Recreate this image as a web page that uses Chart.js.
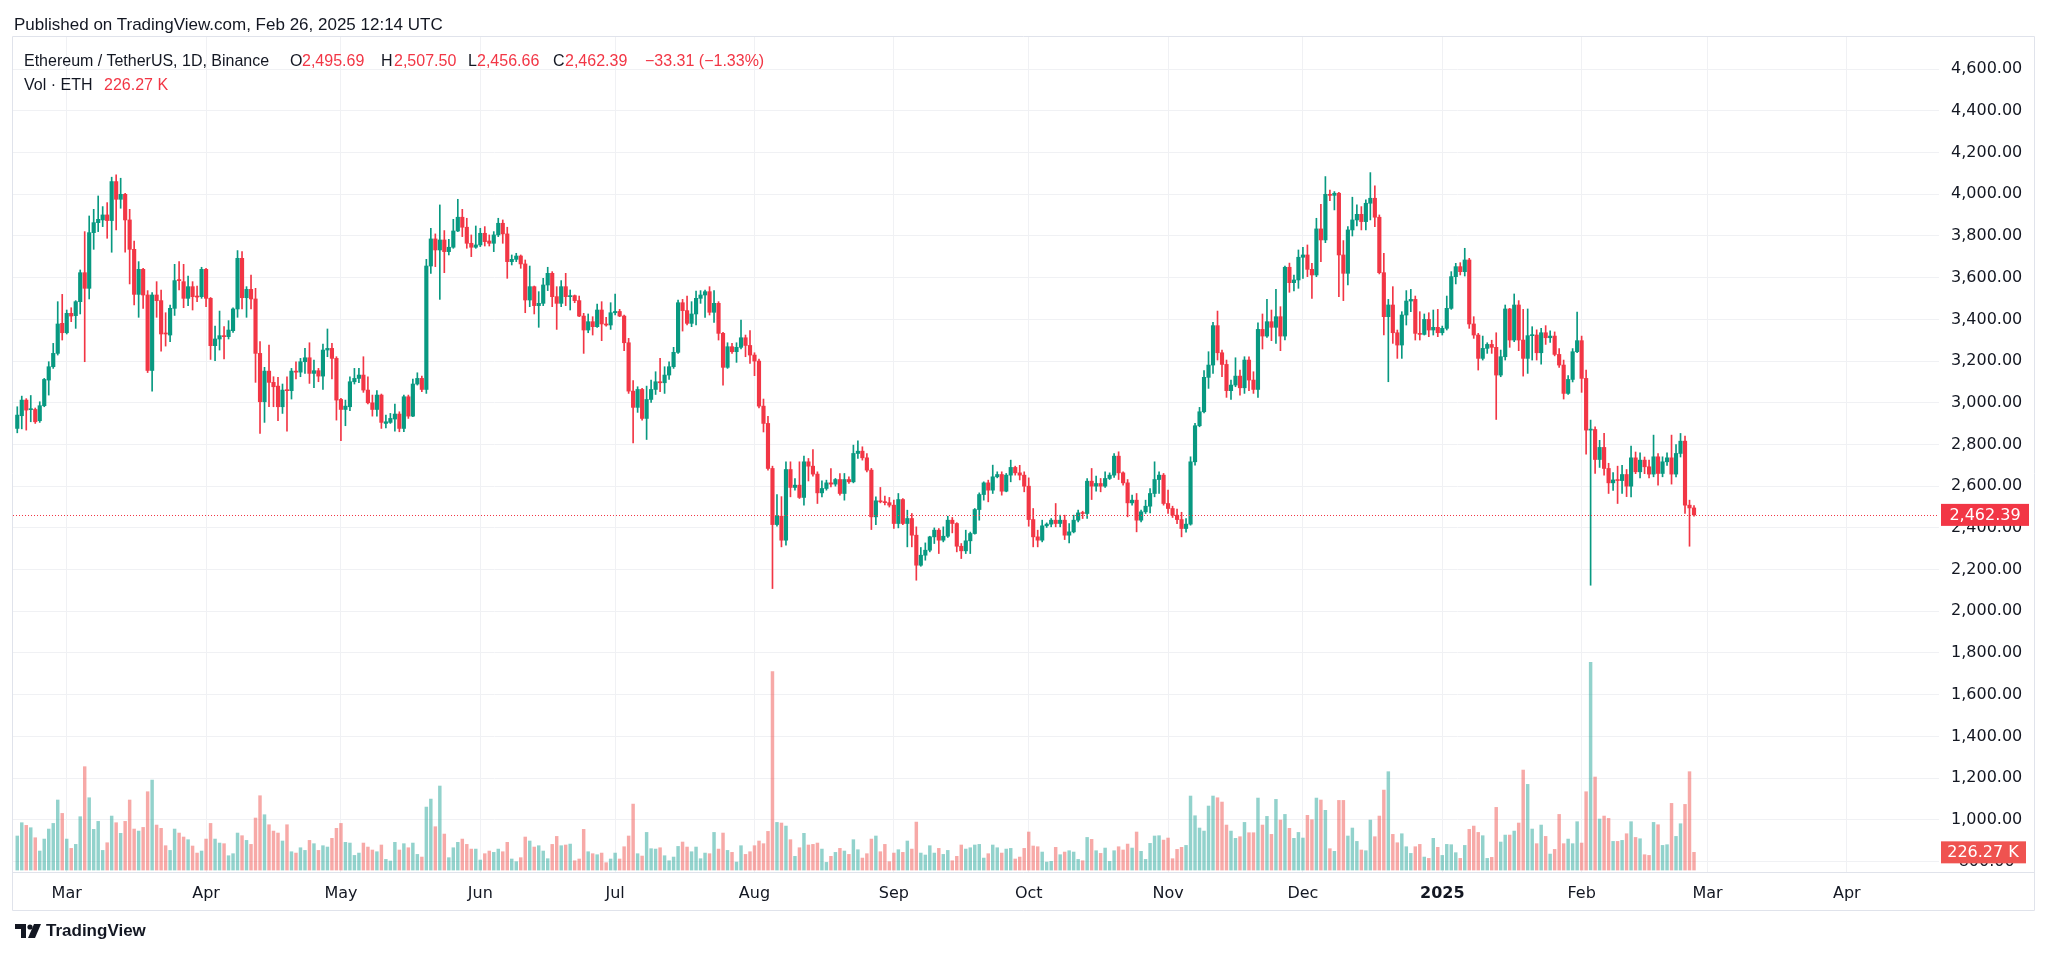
<!DOCTYPE html>
<html><head><meta charset="utf-8">
<script src="https://cdn.jsdelivr.net/npm/chart.js@4.4.1/dist/chart.umd.min.js"></script>
<style>
html,body{margin:0;padding:0;background:#fff;overflow:hidden;}
#wrap{position:relative;width:2048px;height:956px;overflow:hidden;font-family:"Liberation Sans",Arial,sans-serif;color:#131722;}
canvas{position:absolute;left:0;top:0;}
.t{position:absolute;white-space:nowrap;line-height:20px;}
.r{color:#F23645;}
</style></head><body>
<div id="wrap">
<canvas id="c" width="2048" height="956"></canvas>
<div class="t" style="left:14px;top:15px;font-size:17px;">Published on TradingView.com, Feb 26, 2025 12:14 UTC</div>
<div class="t" style="left:24px;top:51px;font-size:16px;">Ethereum / TetherUS, 1D, Binance</div>
<div class="t" style="left:290px;top:51px;font-size:16px;">O</div>
<div class="t r" style="left:302px;top:51px;font-size:16px;">2,495.69</div>
<div class="t" style="left:381px;top:51px;font-size:16px;">H</div>
<div class="t r" style="left:394px;top:51px;font-size:16px;">2,507.50</div>
<div class="t" style="left:468px;top:51px;font-size:16px;">L</div>
<div class="t r" style="left:477px;top:51px;font-size:16px;">2,456.66</div>
<div class="t" style="left:553px;top:51px;font-size:16px;">C</div>
<div class="t r" style="left:565px;top:51px;font-size:16px;">2,462.39</div>
<div class="t r" style="left:645px;top:51px;font-size:16px;">−33.31 (−1.33%)</div>
<div class="t" style="left:24px;top:75px;font-size:16px;">Vol · ETH</div>
<div class="t r" style="left:104px;top:75px;font-size:16px;">226.27 K</div>
<svg style="position:absolute;left:15px;top:924px" width="28" height="15" viewBox="0 0 28 15">
<path d="M0 0 H11 V14 H6 V5 H0 Z" fill="#131722"/>
<circle cx="15" cy="3" r="2.6" fill="#131722"/>
<path d="M13 14 L19 0 H26 L20 14 Z" fill="#131722"/>
</svg>
<div class="t" style="left:46px;top:921px;font-size:17px;font-weight:bold;">TradingView</div>
</div>
<script>
// Daily candles starting 2024-02-19 (index 0) through 2025-02-26 (index 373)
const openP = [
2877,2938,3013,2967,2968,2914,2986,3109,3173,3237,
3381,3336,3429,3418,3485,3624,3549,3816,3864,3877,
3901,3874,4061,3976,4000,3877,3736,3520,3640,3517,
3155,3517,3490,3333,3325,3453,3589,3581,3501,3557,
3512,3509,3640,3501,3274,3306,3322,3317,3346,3450,
3693,3504,3544,3498,3237,3005,3152,3098,3080,2981,
3061,3058,3152,3147,3197,3216,3141,3154,3128,3253,
3261,3213,3016,2968,2981,3101,3117,3133,3061,3000,
2968,3037,2901,2906,2922,2946,2877,3029,2936,3090,
3117,3064,3656,3786,3733,3781,3725,3746,3824,3890,
3842,3765,3746,3757,3813,3776,3765,3805,3861,3810,
3677,3688,3704,3666,3493,3557,3466,3477,3565,3621,
3509,3477,3557,3509,3514,3490,3416,3349,3389,3365,
3445,3378,3373,3432,3438,3416,3288,3056,2978,3064,
2925,3016,3064,3101,3096,3133,3173,3242,3480,3442,
3381,3426,3501,3517,3533,3434,3477,3333,3170,3269,
3245,3266,3312,3275,3229,3200,2984,2901,2685,2416,
2456,2341,2680,2594,2605,2546,2717,2696,2658,2568,
2589,2616,2610,2632,2565,2632,2621,2757,2768,2736,
2677,2453,2530,2525,2521,2509,2421,2536,2421,2445,
2365,2221,2269,2293,2357,2389,2341,2360,2437,2421,
2312,2290,2338,2373,2488,2560,2616,2581,2645,2656,
2576,2653,2690,2664,2653,2600,2440,2357,2341,2410,
2418,2437,2421,2437,2365,2381,2437,2472,2469,2624,
2600,2613,2600,2637,2653,2744,2664,2616,2520,2533,
2437,2477,2504,2565,2632,2653,2517,2493,2461,2440,
2397,2418,2717,2890,2957,3122,3181,3370,3240,3184,
3058,3085,3128,3072,3205,3109,3064,3352,3320,3389,
3362,3413,3320,3650,3576,3589,3698,3709,3640,3613,
3834,3781,4000,3995,4005,3709,3621,3829,3877,3904,
3869,3957,3981,3890,3624,3413,3469,3336,3277,3421,
3488,3496,3333,3328,3400,3349,3362,3336,3357,3453,
3605,3653,3629,3685,3378,3325,3213,3261,3280,3266,
3133,3221,3450,3301,3469,3301,3213,3322,3325,3240,
3336,3312,3320,3232,3181,3045,3112,3245,3298,3117,
2869,2872,2728,2786,2685,2616,2630,2627,2656,2600,
2736,2669,2725,2693,2658,2741,2661,2717,2736,2658,
2757,2816,2509,2495.69
];
const highP = [
2981,3032,3020,3035,2975,3005,3117,3197,3285,3485,
3520,3445,3456,3490,3637,3821,3896,3928,3992,3941,
3960,4082,4093,4077,4005,3928,3776,3677,3645,3538,
3528,3581,3541,3432,3469,3664,3677,3664,3608,3581,
3560,3650,3645,3505,3368,3440,3365,3394,3456,3730,
3725,3557,3613,3549,3293,3170,3277,3125,3122,3090,
3125,3165,3197,3213,3261,3288,3205,3165,3282,3354,
3285,3221,3021,3013,3125,3165,3165,3221,3125,3037,
3058,3042,2941,2949,2994,2957,3037,3037,3114,3144,
3128,3688,3837,3810,3949,3826,3784,3880,3976,3928,
3885,3805,3848,3837,3845,3805,3821,3885,3877,3842,
3709,3717,3709,3685,3656,3560,3533,3597,3650,3629,
3557,3586,3621,3541,3517,3512,3429,3426,3413,3474,
3485,3410,3480,3522,3448,3421,3309,3106,3077,3069,
3080,3109,3149,3213,3173,3197,3266,3493,3496,3512,
3485,3536,3538,3541,3557,3538,3485,3338,3288,3285,
3288,3397,3325,3346,3240,3210,3018,2935,2696,2560,
2550,2717,2717,2637,2717,2744,2733,2776,2669,2626,
2629,2685,2637,2661,2661,2645,2797,2818,2789,2757,
2685,2549,2594,2553,2546,2533,2565,2540,2485,2469,
2405,2306,2328,2360,2400,2397,2405,2456,2450,2425,
2325,2389,2380,2493,2568,2621,2629,2701,2669,2669,
2661,2725,2696,2700,2669,2640,2493,2389,2437,2424,
2445,2517,2461,2461,2421,2461,2485,2480,2637,2685,
2648,2637,2669,2664,2757,2765,2669,2632,2557,2565,
2485,2533,2589,2717,2669,2661,2581,2504,2490,2475,
2445,2741,2901,2978,3154,3245,3386,3440,3253,3205,
3109,3216,3157,3221,3221,3149,3384,3426,3496,3445,
3544,3461,3656,3670,3613,3733,3746,3757,3669,3885,
3952,4085,4020,4013,4010,3778,3845,3986,3949,3941,
3973,4104,4040,3901,3717,3496,3557,3349,3437,3538,
3544,3512,3437,3426,3432,3445,3448,3368,3512,3629,
3669,3672,3741,3693,3413,3333,3320,3288,3300,3336,
3253,3469,3453,3522,3490,3448,3450,3365,3350,3357,
3370,3345,3340,3260,3205,3130,3260,3435,3320,3157,
2917,2885,2820,2853,2710,2665,2696,2700,2680,2792,
2764,2760,2740,2725,2845,2757,2741,2760,2845,2800,
2853,2840,2533,2507.50
];
const lowP = [
2856,2875,2869,2909,2901,2906,2981,3037,3165,3229,
3301,3330,3389,3357,3426,3197,3498,3736,3821,3845,
3789,3722,3829,3933,3722,3570,3469,3410,3453,3145,
3056,3410,3248,3272,3293,3419,3541,3456,3466,3445,
3485,3501,3461,3208,3202,3253,3210,3306,3338,3410,
3450,3410,3450,3098,2853,2906,2981,2981,2914,2949,
2864,3018,3114,3125,3141,3093,3072,3101,3064,3221,
3114,2917,2818,2890,2962,3090,3096,3050,2994,2936,
2936,2877,2880,2901,2864,2861,2861,2925,2933,3085,
3053,3045,3621,3653,3496,3624,3709,3741,3821,3797,
3741,3701,3741,3749,3752,3752,3725,3797,3765,3597,
3661,3677,3645,3432,3461,3426,3362,3466,3538,3461,
3352,3461,3466,3445,3480,3413,3237,3336,3325,3362,
3298,3368,3352,3421,3413,3250,3045,2808,2954,2917,
2824,3002,3040,3053,3045,3112,3165,3237,3344,3373,
3365,3373,3477,3410,3421,3386,3301,3085,3165,3237,
3194,3258,3221,3189,3130,2975,2860,2677,2109,2408,
2309,2317,2549,2581,2541,2509,2625,2648,2517,2549,
2581,2597,2600,2557,2533,2613,2616,2733,2725,2669,
2392,2416,2520,2510,2500,2397,2400,2416,2309,2309,
2149,2216,2245,2285,2325,2277,2333,2354,2376,2285,
2253,2277,2277,2370,2437,2533,2525,2565,2640,2557,
2573,2621,2653,2630,2573,2408,2309,2309,2333,2402,
2405,2405,2405,2344,2328,2376,2429,2445,2445,2536,
2576,2573,2594,2632,2642,2632,2605,2453,2509,2381,
2429,2469,2472,2549,2565,2509,2469,2450,2420,2357,
2380,2413,2701,2885,2952,3069,3141,3205,3125,3026,
3016,3077,3037,3045,3058,3045,3026,3258,3314,3298,
3285,3250,3301,3530,3536,3549,3597,3605,3501,3605,
3677,3768,3970,3925,3509,3490,3565,3800,3848,3829,
3829,3877,3845,3618,3325,3101,3285,3213,3213,3373,
3437,3301,3301,3325,3317,3325,3317,3325,3349,3448,
3570,3613,3608,3357,3309,3157,3205,3237,3237,2920,
3125,3205,3266,3293,3250,3128,3141,3205,3205,3185,
3280,3290,3225,3170,3018,3040,3100,3240,3050,2754,
2125,2661,2690,2653,2565,2580,2517,2565,2550,2549,
2660,2640,2660,2640,2645,2605,2645,2700,2610,2645,
2740,2469,2312,2456.66
];
const closeP = [
2941,3013,2965,2971,2909,2986,3112,3173,3237,3378,
3336,3429,3416,3485,3624,3549,3816,3864,3880,3901,
3874,4061,3976,4000,3877,3736,3520,3640,3517,3155,
3517,3490,3330,3330,3453,3586,3586,3501,3557,3509,
3507,3640,3501,3274,3306,3322,3317,3349,3450,3693,
3504,3544,3498,3237,3005,3152,3098,3077,2981,3061,
3058,3152,3147,3197,3216,3141,3154,3128,3253,3261,
3213,3013,2968,2984,3101,3117,3133,3061,3000,2968,
3037,2906,2909,2925,2946,2877,3029,2936,3090,3117,
3064,3656,3786,3733,3781,3725,3746,3824,3890,3842,
3765,3746,3757,3813,3773,3765,3805,3861,3810,3677,
3688,3704,3666,3493,3557,3466,3477,3565,3621,3509,
3477,3557,3509,3514,3490,3416,3349,3389,3365,3445,
3378,3373,3432,3438,3416,3288,3056,2978,3064,2925,
3016,3064,3101,3096,3133,3173,3242,3480,3442,3381,
3426,3501,3517,3533,3434,3477,3333,3170,3269,3245,
3266,3312,3275,3229,3200,2984,2901,2685,2416,2456,
2341,2680,2594,2605,2546,2717,2696,2658,2568,2589,
2616,2610,2632,2565,2632,2621,2757,2768,2736,2677,
2453,2530,2525,2521,2509,2421,2536,2421,2445,2365,
2221,2269,2293,2357,2389,2341,2360,2437,2421,2312,
2290,2338,2373,2488,2560,2616,2581,2645,2656,2576,
2653,2690,2664,2653,2600,2440,2357,2341,2410,2418,
2437,2421,2437,2365,2381,2437,2472,2469,2624,2600,
2613,2600,2637,2653,2744,2664,2616,2520,2533,2437,
2477,2504,2565,2632,2653,2517,2493,2461,2440,2397,
2418,2717,2890,2957,3122,3181,3370,3240,3184,3058,
3085,3128,3072,3205,3109,3064,3352,3320,3389,3362,
3413,3320,3650,3576,3589,3698,3709,3640,3613,3834,
3781,4000,3995,4005,3709,3621,3829,3877,3904,3869,
3957,3981,3890,3624,3413,3469,3336,3277,3421,3488,
3496,3333,3328,3400,3349,3362,3336,3357,3453,3605,
3653,3629,3685,3378,3325,3213,3261,3280,3266,3133,
3221,3450,3301,3469,3301,3213,3322,3325,3240,3336,
3312,3320,3232,3181,3045,3112,3245,3298,3117,2869,
2872,2728,2786,2685,2616,2630,2627,2656,2600,2736,
2669,2725,2693,2658,2741,2661,2717,2736,2658,2757,
2816,2509,2495.69,2462.39
];
// Volume in thousands of ETH
const volK = [
435,605,571,541,413,243,396,524,596,895,
724,396,277,328,682,1321,924,520,622,251,
349,690,605,469,622,895,524,498,545,1001,
1150,575,533,311,251,524,473,422,388,307,
217,243,396,596,396,345,337,183,209,473,
439,379,328,665,950,707,579,498,473,371,
579,234,217,285,251,379,337,251,311,294,
405,533,596,354,345,187,217,345,294,256,
234,320,136,115,354,256,337,285,345,200,
166,805,907,554,1074,460,158,285,354,396,
328,268,268,128,209,243,226,268,234,354,
141,107,158,422,371,294,311,243,145,328,
430,311,320,332,119,141,520,234,209,196,
217,94,141,217,141,298,435,843,209,179,
481,273,268,285,183,119,166,302,358,294,
234,294,145,217,209,481,268,473,251,226,
102,311,200,234,311,371,337,494,2535,609,
601,562,388,175,285,469,320,328,345,268,
98,175,226,277,243,200,388,260,153,209,
396,435,234,328,107,217,260,226,371,268,
613,217,192,311,217,277,200,251,119,175,
320,268,285,320,328,153,209,320,285,217,
268,277,141,166,277,486,307,298,230,102,
111,290,196,230,247,230,136,119,417,392,
247,213,281,111,247,298,256,332,281,486,
239,136,341,435,439,383,409,145,264,290,
315,946,694,537,498,818,946,924,869,575,
498,405,426,609,477,477,920,575,686,456,
903,639,711,533,405,481,409,699,643,920,
895,763,273,239,890,890,435,537,366,256,
247,639,426,690,1022,1257,456,349,464,298,
213,298,328,166,149,405,290,187,328,324,
222,149,315,520,562,481,439,149,162,801,
358,447,447,498,601,1278,1095,524,337,575,
430,204,264,711,337,396,337,618,345,1001,
2654,1189,652,690,660,366,366,379,464,618,
417,400,196,187,609,579,315,324,852,430,
592,839,1257,226.27
];
// Month-start positions (candle index) and their labels
const tickIdx = [11,42,72,103,133,164,195,225,256,286,317,348,376,407];
const tickLabels = ["Mar","Apr","May","Jun","Jul","Aug","Sep","Oct","Nov","Dec","2025","Feb","Mar","Apr"];
const priceTicks = [800,1000,1200,1400,1600,1800,2000,2200,2400,2600,2800,3000,3200,3400,3600,3800,4000,4200,4400,4600];
const lastClose = 2462.39;
const lastVol = 226.27;

const UP = '#089981', DOWN = '#F23645';
const VUP = 'rgba(38,166,154,0.5)', VDOWN = 'rgba(239,83,80,0.5)';
const GRID = '#f0f1f4', BORDER = '#e0e3eb';
const AXISFONT = '"DejaVu Sans", sans-serif';

const N = openP.length;
const idx = Array.from({length: N}, (_, i) => i);
const isUp = idx.map(i => closeP[i] >= openP[i]);
const fmt = v => Number(v).toLocaleString('en-US', {minimumFractionDigits: 2, maximumFractionDigits: 2});

const overlay = {
  id: 'overlay',
  afterDatasetsDraw(chart) {
    const {ctx, chartArea: a, scales} = chart;
    const y = scales.y.getPixelForValue(lastClose);
    ctx.save();
    ctx.strokeStyle = DOWN; ctx.lineWidth = 1; ctx.setLineDash([1, 2]);
    ctx.beginPath(); ctx.moveTo(a.left, Math.round(y) + 0.5); ctx.lineTo(a.right, Math.round(y) + 0.5); ctx.stroke();
    ctx.restore();
  },
  afterDraw(chart) {
    const {ctx, chartArea: a, scales} = chart;
    ctx.save();
    // frame
    ctx.strokeStyle = BORDER; ctx.lineWidth = 1;
    ctx.beginPath();
    ctx.moveTo(a.left - 0.5, 36.5); ctx.lineTo(2034.5, 36.5);
    ctx.moveTo(a.left - 0.5, 36.5); ctx.lineTo(a.left - 0.5, 910.5);
    ctx.moveTo(2034.5, 36.5); ctx.lineTo(2034.5, 910.5);
    ctx.moveTo(a.left - 0.5, 910.5); ctx.lineTo(2034.5, 910.5);
    ctx.moveTo(a.left - 0.5, a.bottom + 0.5); ctx.lineTo(2034.5, a.bottom + 0.5);
    ctx.stroke();
    // last price label
    const yp = scales.y.getPixelForValue(lastClose);
    ctx.fillStyle = DOWN;
    ctx.fillRect(1941, yp - 11, 88, 22);
    ctx.fillStyle = '#fff';
    ctx.font = '16px ' + AXISFONT; ctx.textAlign = 'center'; ctx.textBaseline = 'middle';
    ctx.fillText(fmt(lastClose), 1985, yp + 1);
    // last volume label
    const yv = scales.yv.getPixelForValue(lastVol);
    ctx.fillStyle = '#EF5350';
    ctx.fillRect(1941, yv - 11, 85, 22);
    ctx.fillStyle = '#fff';
    ctx.fillText(lastVol.toFixed(2) + ' K', 1983, yv + 1);
    ctx.restore();
  }
};

new Chart(document.getElementById('c'), {
  type: 'bar',
  data: {
    datasets: [
      { label: 'body', data: idx.map(i => ({x: i, y: [openP[i], closeP[i]]})),
        backgroundColor: idx.map(i => isUp[i] ? UP : DOWN), barThickness: 3.5, minBarLength: 1,
        grouped: false, yAxisID: 'y' },
      { label: 'wick', data: idx.map(i => ({x: i, y: [lowP[i], highP[i]]})),
        backgroundColor: idx.map(i => isUp[i] ? UP : DOWN), barThickness: 1,
        grouped: false, yAxisID: 'y' },
      { label: 'volume', data: idx.map(i => ({x: i, y: volK[i]})),
        backgroundColor: idx.map(i => isUp[i] ? VUP : VDOWN), barThickness: 2.8,
        grouped: false, yAxisID: 'yv' }
    ]
  },
  options: {
    responsive: false, animation: false, devicePixelRatio: 1,
    layout: { padding: { left: 13, top: 36, right: 14, bottom: 46 } },
    plugins: { legend: { display: false }, tooltip: { enabled: false } },
    scales: {
      x: {
        type: 'linear', min: -0.95, max: 427.5, offset: false,
        grid: { color: GRID, drawTicks: false, offset: false },
        border: { display: false },
        afterBuildTicks: s => { s.ticks = tickIdx.map(v => ({value: v})); },
        afterFit: s => { s.height = 38; },
        ticks: {
          autoSkip: false, maxRotation: 0, padding: 12, color: '#131722',
          font: ctx => ({ family: AXISFONT, size: 16, weight: tickLabels[ctx.index] === '2025' ? 'bold' : 'normal' }),
          callback: (v, i) => tickLabels[i]
        }
      },
      y: {
        position: 'right', min: 749.6, max: 4759.2,
        grid: { color: GRID, drawTicks: false },
        border: { display: false },
        afterBuildTicks: s => { s.ticks = priceTicks.map(v => ({value: v})); },
        afterFit: s => { s.width = 95; },
        ticks: { padding: 12, crossAlign: 'center', color: '#131722',
          font: { family: AXISFONT, size: 16 }, callback: v => fmt(v) }
      },
      yv: { display: false, min: -25, max: 10660 }
    }
  },
  plugins: [overlay]
});
</script>
</body></html>
